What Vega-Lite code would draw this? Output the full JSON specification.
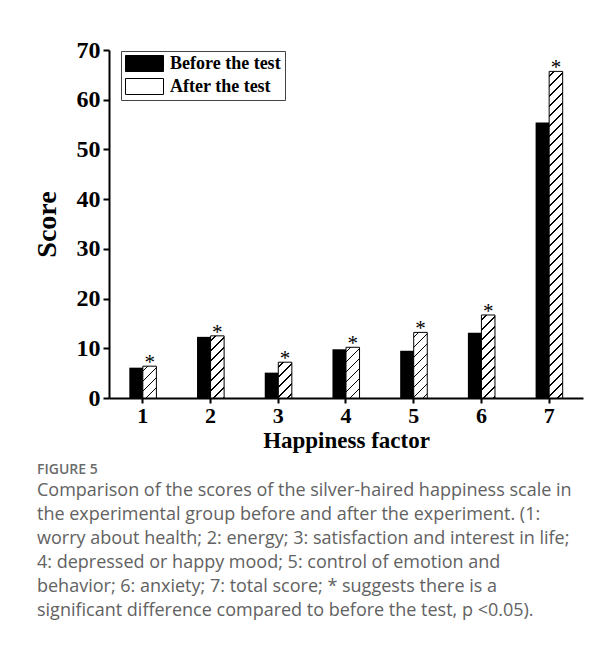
{
  "$schema": "https://vega.github.io/schema/vega-lite/v6.json",
  "autosize": {"type": "none"},
  "width": 474,
  "height": 348,
  "padding": {"left": 109, "top": 50, "right": 31, "bottom": 265},
  "background": "white",
  "data": {
    "values": [
      {"factor": 1, "group": "Before the test", "score": 6.1},
      {"factor": 1, "group": "After the test", "score": 6.4},
      {"factor": 2, "group": "Before the test", "score": 12.3},
      {"factor": 2, "group": "After the test", "score": 12.5},
      {"factor": 3, "group": "Before the test", "score": 5.1},
      {"factor": 3, "group": "After the test", "score": 7.2},
      {"factor": 4, "group": "Before the test", "score": 9.8},
      {"factor": 4, "group": "After the test", "score": 10.2},
      {"factor": 5, "group": "Before the test", "score": 9.5},
      {"factor": 5, "group": "After the test", "score": 13.2},
      {"factor": 6, "group": "Before the test", "score": 13.1},
      {"factor": 6, "group": "After the test", "score": 16.7},
      {"factor": 7, "group": "Before the test", "score": 55.4},
      {"factor": 7, "group": "After the test", "score": 65.7}
    ]
  },
  "title": {
    "text": "FIGURE 5",
    "subtitle": [
      "Comparison of the scores of the silver-haired happiness scale in",
      "the experimental group before and after the experiment. (1:",
      "worry about health; 2: energy; 3: satisfaction and interest in life;",
      "4: depressed or happy mood; 5: control of emotion and",
      "behavior; 6: anxiety; 7: total score; * suggests there is a",
      "significant difference compared to before the test, p <0.05)."
    ],
    "orient": "bottom",
    "anchor": "start",
    "frame": "bounds",
    "offset": 11,
    "dx": 4,
    "font": "Open Sans",
    "fontSize": 14,
    "fontWeight": 600,
    "color": "#6b6b6b",
    "subtitleFont": "Open Sans",
    "subtitleFontSize": 18,
    "subtitleFontWeight": 400,
    "subtitleColor": "#626262",
    "subtitleLineHeight": 24,
    "subtitlePadding": 5
  },
  "config": {
    "view": {"stroke": null},
    "axis": {
      "domainColor": "black",
      "domainWidth": 2,
      "tickColor": "black",
      "tickWidth": 2,
      "labelColor": "black",
      "labelFont": "Liberation Serif",
      "labelFontWeight": "bold",
      "titleColor": "black",
      "titleFont": "Liberation Serif",
      "titleFontWeight": "bold",
      "grid": false
    }
  },
  "encoding": {
    "x": {
      "field": "factor",
      "type": "ordinal",
      "scale": {"paddingInner": 0.6, "paddingOuter": 0.3},
      "axis": {"title": "Happiness factor", "labelAngle": 0, "tickSize": 5, "labelPadding": 2, "titlePadding": 3, "labelFontSize": 22, "titleFontSize": 23}
    },
    "xOffset": {
      "field": "group",
      "type": "nominal",
      "scale": {"domain": ["Before the test", "After the test"], "paddingInner": 0, "paddingOuter": 0}
    },
    "y": {
      "field": "score",
      "type": "quantitative",
      "scale": {"domain": [0, 70], "nice": false},
      "axis": {"title": "Score", "values": [0, 10, 20, 30, 40, 50, 60, 70], "tickSize": 6, "labelPadding": 3, "titlePadding": 15, "labelFontSize": 24, "titleFontSize": 28}
    }
  },
  "layer": [
    {
      "transform": [{"filter": "datum.group === 'After the test' && datum.factor === 1"}],
      "mark": {"type": "bar", "stroke": "black", "strokeWidth": 1, "fill": {"gradient": "linear", "x1": 0, "y1": 0, "x2": 0.56622, "y2": 1.3304, "stops": [
        {"offset": 0, "color": "#fff"},
        {"offset": 0.086, "color": "#fff"}, {"offset": 0.086, "color": "#000"}, {"offset": 0.114, "color": "#000"}, {"offset": 0.114, "color": "#fff"},
        {"offset": 0.286, "color": "#fff"}, {"offset": 0.286, "color": "#000"}, {"offset": 0.314, "color": "#000"}, {"offset": 0.314, "color": "#fff"},
        {"offset": 0.486, "color": "#fff"}, {"offset": 0.486, "color": "#000"}, {"offset": 0.514, "color": "#000"}, {"offset": 0.514, "color": "#fff"},
        {"offset": 0.686, "color": "#fff"}, {"offset": 0.686, "color": "#000"}, {"offset": 0.714, "color": "#000"}, {"offset": 0.714, "color": "#fff"},
        {"offset": 0.886, "color": "#fff"}, {"offset": 0.886, "color": "#000"}, {"offset": 0.914, "color": "#000"}, {"offset": 0.914, "color": "#fff"},
        {"offset": 1, "color": "#fff"}]}}
    },
    {
      "transform": [{"filter": "datum.group === 'After the test' && datum.factor === 2"}],
      "mark": {"type": "bar", "stroke": "black", "strokeWidth": 1, "fill": {"gradient": "linear", "x1": 0, "y1": 0, "x2": 0.26786, "y2": 1.2290, "stops": [
        {"offset": 0, "color": "#fff"},
        {"offset": 0.0538, "color": "#fff"}, {"offset": 0.0538, "color": "#000"}, {"offset": 0.0713, "color": "#000"}, {"offset": 0.0713, "color": "#fff"},
        {"offset": 0.1788, "color": "#fff"}, {"offset": 0.1788, "color": "#000"}, {"offset": 0.1963, "color": "#000"}, {"offset": 0.1963, "color": "#fff"},
        {"offset": 0.3038, "color": "#fff"}, {"offset": 0.3038, "color": "#000"}, {"offset": 0.3213, "color": "#000"}, {"offset": 0.3213, "color": "#fff"},
        {"offset": 0.4288, "color": "#fff"}, {"offset": 0.4288, "color": "#000"}, {"offset": 0.4463, "color": "#000"}, {"offset": 0.4463, "color": "#fff"},
        {"offset": 0.5538, "color": "#fff"}, {"offset": 0.5538, "color": "#000"}, {"offset": 0.5713, "color": "#000"}, {"offset": 0.5713, "color": "#fff"},
        {"offset": 0.6788, "color": "#fff"}, {"offset": 0.6788, "color": "#000"}, {"offset": 0.6963, "color": "#000"}, {"offset": 0.6963, "color": "#fff"},
        {"offset": 0.8038, "color": "#fff"}, {"offset": 0.8038, "color": "#000"}, {"offset": 0.8213, "color": "#000"}, {"offset": 0.8213, "color": "#fff"},
        {"offset": 0.9288, "color": "#fff"}, {"offset": 0.9288, "color": "#000"}, {"offset": 0.9463, "color": "#000"}, {"offset": 0.9463, "color": "#fff"},
        {"offset": 1, "color": "#fff"}]}}
    },
    {
      "transform": [{"filter": "datum.group === 'After the test' && datum.factor === 3"}],
      "mark": {"type": "bar", "stroke": "black", "strokeWidth": 1, "fill": {"gradient": "linear", "x1": 0, "y1": 0, "x2": 0.46245, "y2": 1.2221, "stops": [
        {"offset": 0, "color": "#fff"},
        {"offset": 0.086, "color": "#fff"}, {"offset": 0.086, "color": "#000"}, {"offset": 0.114, "color": "#000"}, {"offset": 0.114, "color": "#fff"},
        {"offset": 0.286, "color": "#fff"}, {"offset": 0.286, "color": "#000"}, {"offset": 0.314, "color": "#000"}, {"offset": 0.314, "color": "#fff"},
        {"offset": 0.486, "color": "#fff"}, {"offset": 0.486, "color": "#000"}, {"offset": 0.514, "color": "#000"}, {"offset": 0.514, "color": "#fff"},
        {"offset": 0.686, "color": "#fff"}, {"offset": 0.686, "color": "#000"}, {"offset": 0.714, "color": "#000"}, {"offset": 0.714, "color": "#fff"},
        {"offset": 0.886, "color": "#fff"}, {"offset": 0.886, "color": "#000"}, {"offset": 0.914, "color": "#000"}, {"offset": 0.914, "color": "#fff"},
        {"offset": 1, "color": "#fff"}]}}
    },
    {
      "transform": [{"filter": "datum.group === 'After the test' && datum.factor === 4"}],
      "mark": {"type": "bar", "stroke": "black", "strokeWidth": 1, "fill": {"gradient": "linear", "x1": 0, "y1": 0, "x2": 0.34412, "y2": 1.2885, "stops": [
        {"offset": 0, "color": "#fff"},
        {"offset": 0.0614, "color": "#fff"}, {"offset": 0.0614, "color": "#000"}, {"offset": 0.0814, "color": "#000"}, {"offset": 0.0814, "color": "#fff"},
        {"offset": 0.2043, "color": "#fff"}, {"offset": 0.2043, "color": "#000"}, {"offset": 0.2243, "color": "#000"}, {"offset": 0.2243, "color": "#fff"},
        {"offset": 0.3471, "color": "#fff"}, {"offset": 0.3471, "color": "#000"}, {"offset": 0.3671, "color": "#000"}, {"offset": 0.3671, "color": "#fff"},
        {"offset": 0.4900, "color": "#fff"}, {"offset": 0.4900, "color": "#000"}, {"offset": 0.5100, "color": "#000"}, {"offset": 0.5100, "color": "#fff"},
        {"offset": 0.6329, "color": "#fff"}, {"offset": 0.6329, "color": "#000"}, {"offset": 0.6529, "color": "#000"}, {"offset": 0.6529, "color": "#fff"},
        {"offset": 0.7757, "color": "#fff"}, {"offset": 0.7757, "color": "#000"}, {"offset": 0.7957, "color": "#000"}, {"offset": 0.7957, "color": "#fff"},
        {"offset": 0.9186, "color": "#fff"}, {"offset": 0.9186, "color": "#000"}, {"offset": 0.9386, "color": "#000"}, {"offset": 0.9386, "color": "#fff"},
        {"offset": 1, "color": "#fff"}]}}
    },
    {
      "transform": [{"filter": "datum.group === 'After the test' && datum.factor === 5"}],
      "mark": {"type": "bar", "stroke": "black", "strokeWidth": 1, "fill": {"gradient": "linear", "x1": 0, "y1": 0, "x2": 0.24133, "y2": 1.1693, "stops": [
        {"offset": 0, "color": "#fff"},
        {"offset": 0.0538, "color": "#fff"}, {"offset": 0.0538, "color": "#000"}, {"offset": 0.0713, "color": "#000"}, {"offset": 0.0713, "color": "#fff"},
        {"offset": 0.1788, "color": "#fff"}, {"offset": 0.1788, "color": "#000"}, {"offset": 0.1963, "color": "#000"}, {"offset": 0.1963, "color": "#fff"},
        {"offset": 0.3038, "color": "#fff"}, {"offset": 0.3038, "color": "#000"}, {"offset": 0.3213, "color": "#000"}, {"offset": 0.3213, "color": "#fff"},
        {"offset": 0.4288, "color": "#fff"}, {"offset": 0.4288, "color": "#000"}, {"offset": 0.4463, "color": "#000"}, {"offset": 0.4463, "color": "#fff"},
        {"offset": 0.5538, "color": "#fff"}, {"offset": 0.5538, "color": "#000"}, {"offset": 0.5713, "color": "#000"}, {"offset": 0.5713, "color": "#fff"},
        {"offset": 0.6788, "color": "#fff"}, {"offset": 0.6788, "color": "#000"}, {"offset": 0.6963, "color": "#000"}, {"offset": 0.6963, "color": "#fff"},
        {"offset": 0.8038, "color": "#fff"}, {"offset": 0.8038, "color": "#000"}, {"offset": 0.8213, "color": "#000"}, {"offset": 0.8213, "color": "#fff"},
        {"offset": 0.9288, "color": "#fff"}, {"offset": 0.9288, "color": "#000"}, {"offset": 0.9463, "color": "#000"}, {"offset": 0.9463, "color": "#fff"},
        {"offset": 1, "color": "#fff"}]}}
    },
    {
      "transform": [{"filter": "datum.group === 'After the test' && datum.factor === 6"}],
      "mark": {"type": "bar", "stroke": "black", "strokeWidth": 1, "fill": {"gradient": "linear", "x1": 0, "y1": 0, "x2": 0.19140, "y2": 1.1733, "stops": [
        {"offset": 0, "color": "#fff"},
        {"offset": 0.043, "color": "#fff"}, {"offset": 0.043, "color": "#000"}, {"offset": 0.057, "color": "#000"}, {"offset": 0.057, "color": "#fff"},
        {"offset": 0.143, "color": "#fff"}, {"offset": 0.143, "color": "#000"}, {"offset": 0.157, "color": "#000"}, {"offset": 0.157, "color": "#fff"},
        {"offset": 0.243, "color": "#fff"}, {"offset": 0.243, "color": "#000"}, {"offset": 0.257, "color": "#000"}, {"offset": 0.257, "color": "#fff"},
        {"offset": 0.343, "color": "#fff"}, {"offset": 0.343, "color": "#000"}, {"offset": 0.357, "color": "#000"}, {"offset": 0.357, "color": "#fff"},
        {"offset": 0.443, "color": "#fff"}, {"offset": 0.443, "color": "#000"}, {"offset": 0.457, "color": "#000"}, {"offset": 0.457, "color": "#fff"},
        {"offset": 0.543, "color": "#fff"}, {"offset": 0.543, "color": "#000"}, {"offset": 0.557, "color": "#000"}, {"offset": 0.557, "color": "#fff"},
        {"offset": 0.643, "color": "#fff"}, {"offset": 0.643, "color": "#000"}, {"offset": 0.657, "color": "#000"}, {"offset": 0.657, "color": "#fff"},
        {"offset": 0.743, "color": "#fff"}, {"offset": 0.743, "color": "#000"}, {"offset": 0.757, "color": "#000"}, {"offset": 0.757, "color": "#fff"},
        {"offset": 0.843, "color": "#fff"}, {"offset": 0.843, "color": "#000"}, {"offset": 0.857, "color": "#000"}, {"offset": 0.857, "color": "#fff"},
        {"offset": 0.943, "color": "#fff"}, {"offset": 0.943, "color": "#000"}, {"offset": 0.957, "color": "#000"}, {"offset": 0.957, "color": "#fff"},
        {"offset": 1, "color": "#fff"}]}}
    },
    {
      "transform": [{"filter": "datum.group === 'After the test' && datum.factor === 7"}],
      "mark": {"type": "bar", "stroke": "black", "strokeWidth": 1, "fill": {"gradient": "linear", "x1": 0, "y1": 0, "x2": 0.044356, "y2": 1.06974, "stops": [
        {"offset": 0, "color": "#fff"},
        {"offset": 0.0123, "color": "#fff"}, {"offset": 0.0123, "color": "#000"}, {"offset": 0.0163, "color": "#000"}, {"offset": 0.0163, "color": "#fff"},
        {"offset": 0.0409, "color": "#fff"}, {"offset": 0.0409, "color": "#000"}, {"offset": 0.0449, "color": "#000"}, {"offset": 0.0449, "color": "#fff"},
        {"offset": 0.0694, "color": "#fff"}, {"offset": 0.0694, "color": "#000"}, {"offset": 0.0734, "color": "#000"}, {"offset": 0.0734, "color": "#fff"},
        {"offset": 0.0980, "color": "#fff"}, {"offset": 0.0980, "color": "#000"}, {"offset": 0.1020, "color": "#000"}, {"offset": 0.1020, "color": "#fff"},
        {"offset": 0.1266, "color": "#fff"}, {"offset": 0.1266, "color": "#000"}, {"offset": 0.1306, "color": "#000"}, {"offset": 0.1306, "color": "#fff"},
        {"offset": 0.1551, "color": "#fff"}, {"offset": 0.1551, "color": "#000"}, {"offset": 0.1591, "color": "#000"}, {"offset": 0.1591, "color": "#fff"},
        {"offset": 0.1837, "color": "#fff"}, {"offset": 0.1837, "color": "#000"}, {"offset": 0.1877, "color": "#000"}, {"offset": 0.1877, "color": "#fff"},
        {"offset": 0.2123, "color": "#fff"}, {"offset": 0.2123, "color": "#000"}, {"offset": 0.2163, "color": "#000"}, {"offset": 0.2163, "color": "#fff"},
        {"offset": 0.2409, "color": "#fff"}, {"offset": 0.2409, "color": "#000"}, {"offset": 0.2449, "color": "#000"}, {"offset": 0.2449, "color": "#fff"},
        {"offset": 0.2694, "color": "#fff"}, {"offset": 0.2694, "color": "#000"}, {"offset": 0.2734, "color": "#000"}, {"offset": 0.2734, "color": "#fff"},
        {"offset": 0.2980, "color": "#fff"}, {"offset": 0.2980, "color": "#000"}, {"offset": 0.3020, "color": "#000"}, {"offset": 0.3020, "color": "#fff"},
        {"offset": 0.3266, "color": "#fff"}, {"offset": 0.3266, "color": "#000"}, {"offset": 0.3306, "color": "#000"}, {"offset": 0.3306, "color": "#fff"},
        {"offset": 0.3551, "color": "#fff"}, {"offset": 0.3551, "color": "#000"}, {"offset": 0.3591, "color": "#000"}, {"offset": 0.3591, "color": "#fff"},
        {"offset": 0.3837, "color": "#fff"}, {"offset": 0.3837, "color": "#000"}, {"offset": 0.3877, "color": "#000"}, {"offset": 0.3877, "color": "#fff"},
        {"offset": 0.4123, "color": "#fff"}, {"offset": 0.4123, "color": "#000"}, {"offset": 0.4163, "color": "#000"}, {"offset": 0.4163, "color": "#fff"},
        {"offset": 0.4409, "color": "#fff"}, {"offset": 0.4409, "color": "#000"}, {"offset": 0.4449, "color": "#000"}, {"offset": 0.4449, "color": "#fff"},
        {"offset": 0.4694, "color": "#fff"}, {"offset": 0.4694, "color": "#000"}, {"offset": 0.4734, "color": "#000"}, {"offset": 0.4734, "color": "#fff"},
        {"offset": 0.4980, "color": "#fff"}, {"offset": 0.4980, "color": "#000"}, {"offset": 0.5020, "color": "#000"}, {"offset": 0.5020, "color": "#fff"},
        {"offset": 0.5266, "color": "#fff"}, {"offset": 0.5266, "color": "#000"}, {"offset": 0.5306, "color": "#000"}, {"offset": 0.5306, "color": "#fff"},
        {"offset": 0.5551, "color": "#fff"}, {"offset": 0.5551, "color": "#000"}, {"offset": 0.5591, "color": "#000"}, {"offset": 0.5591, "color": "#fff"},
        {"offset": 0.5837, "color": "#fff"}, {"offset": 0.5837, "color": "#000"}, {"offset": 0.5877, "color": "#000"}, {"offset": 0.5877, "color": "#fff"},
        {"offset": 0.6123, "color": "#fff"}, {"offset": 0.6123, "color": "#000"}, {"offset": 0.6163, "color": "#000"}, {"offset": 0.6163, "color": "#fff"},
        {"offset": 0.6409, "color": "#fff"}, {"offset": 0.6409, "color": "#000"}, {"offset": 0.6449, "color": "#000"}, {"offset": 0.6449, "color": "#fff"},
        {"offset": 0.6694, "color": "#fff"}, {"offset": 0.6694, "color": "#000"}, {"offset": 0.6734, "color": "#000"}, {"offset": 0.6734, "color": "#fff"},
        {"offset": 0.6980, "color": "#fff"}, {"offset": 0.6980, "color": "#000"}, {"offset": 0.7020, "color": "#000"}, {"offset": 0.7020, "color": "#fff"},
        {"offset": 0.7266, "color": "#fff"}, {"offset": 0.7266, "color": "#000"}, {"offset": 0.7306, "color": "#000"}, {"offset": 0.7306, "color": "#fff"},
        {"offset": 0.7551, "color": "#fff"}, {"offset": 0.7551, "color": "#000"}, {"offset": 0.7591, "color": "#000"}, {"offset": 0.7591, "color": "#fff"},
        {"offset": 0.7837, "color": "#fff"}, {"offset": 0.7837, "color": "#000"}, {"offset": 0.7877, "color": "#000"}, {"offset": 0.7877, "color": "#fff"},
        {"offset": 0.8123, "color": "#fff"}, {"offset": 0.8123, "color": "#000"}, {"offset": 0.8163, "color": "#000"}, {"offset": 0.8163, "color": "#fff"},
        {"offset": 0.8409, "color": "#fff"}, {"offset": 0.8409, "color": "#000"}, {"offset": 0.8449, "color": "#000"}, {"offset": 0.8449, "color": "#fff"},
        {"offset": 0.8694, "color": "#fff"}, {"offset": 0.8694, "color": "#000"}, {"offset": 0.8734, "color": "#000"}, {"offset": 0.8734, "color": "#fff"},
        {"offset": 0.8980, "color": "#fff"}, {"offset": 0.8980, "color": "#000"}, {"offset": 0.9020, "color": "#000"}, {"offset": 0.9020, "color": "#fff"},
        {"offset": 0.9266, "color": "#fff"}, {"offset": 0.9266, "color": "#000"}, {"offset": 0.9306, "color": "#000"}, {"offset": 0.9306, "color": "#fff"},
        {"offset": 0.9551, "color": "#fff"}, {"offset": 0.9551, "color": "#000"}, {"offset": 0.9591, "color": "#000"}, {"offset": 0.9591, "color": "#fff"},
        {"offset": 0.9837, "color": "#fff"}, {"offset": 0.9837, "color": "#000"}, {"offset": 0.9877, "color": "#000"}, {"offset": 0.9877, "color": "#fff"},
        {"offset": 1, "color": "#fff"}]}}
    },
    {
      "transform": [{"filter": "datum.group === 'Before the test'"}],
      "mark": {"type": "bar"},
      "encoding": {
        "fill": {
          "field": "group",
          "type": "nominal",
          "scale": {"domain": ["Before the test", "After the test"], "range": ["black", "white"]},
          "legend": {
            "title": null,
            "orient": "none",
            "legendX": 12,
            "legendY": 1,
            "direction": "vertical",
            "symbolType": "M-1,-0.421H1V0.421H-1Z",
            "symbolSize": 1444,
            "symbolStrokeColor": "black",
            "symbolStrokeWidth": 1,
            "symbolOpacity": 1,
            "clipHeight": 17,
            "rowPadding": 4,
            "labelOffset": 6,
            "labelFont": "Liberation Serif",
            "labelFontSize": 18,
            "labelFontWeight": "bold",
            "labelColor": "black",
            "padding": 4,
            "strokeColor": "#444",
            "fillColor": "white"
          }
        }
      }
    },
    {
      "transform": [{"filter": "datum.group === 'After the test'"}],
      "mark": {"type": "text", "text": "*", "font": "Liberation Serif", "fontSize": 21, "baseline": "alphabetic", "align": "center", "dy": 3, "color": "black"}
    }
  ]
}
